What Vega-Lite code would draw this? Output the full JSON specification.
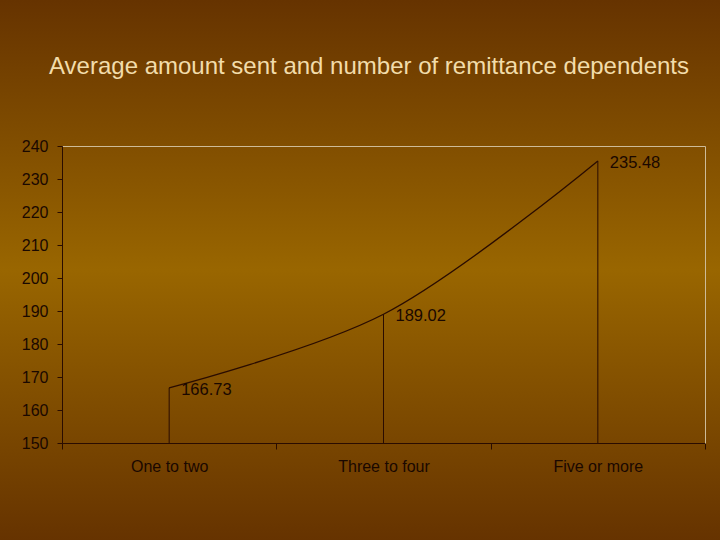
{
  "$schema": "https://vega.github.io/schema/vega-lite/v6.json",
  "width": 720,
  "height": 540,
  "autosize": "none",
  "padding": 0,
  "background": "#804c00",
  "config": {
    "view": {
      "fill": {"gradient": "linear", "x1": 0, "y1": 0, "x2": 0, "y2": 1,
        "stops": [{"offset": 0, "color": "#663300"}, {"offset": 0.5, "color": "#996600"}, {"offset": 1, "color": "#663300"}]},
      "stroke": null
    },
    "font": "Liberation Sans"
  },
  "title": {
    "text": "Average amount sent and number of remittance dependents",
    "color": "#f2dcaa",
    "fontSize": 24,
    "fontWeight": "normal",
    "font": "Liberation Sans",
    "offset": -98,
    "anchor": "middle",
    "frame": "group",
    "dx": 9,
    "baseline": "alphabetic"
  },
  "data": {
    "values": [
      {"group": "One to two", "amount": 166.73},
      {"group": "Three to four", "amount": 189.02},
      {"group": "Five or more", "amount": 235.48}
    ]
  },
  "layer": [
    {
      "mark": {"type": "rule", "color": "#2a0c00", "strokeWidth": 1},
      "encoding": {
        "x": {"field": "group", "type": "nominal", "sort": null,
          "scale": {"type": "band", "range": [62, 705], "paddingInner": 0, "paddingOuter": 0},
          "axis": {"orient": "bottom", "offset": -97, "title": null, "labelAngle": 0, "tickBand": "extent",
            "domainColor": "#2a0c00", "tickColor": "#2a0c00", "tickSize": 6, "labelFontSize": 16,
            "labelColor": "#1a0800", "labelPadding": 9, "grid": false}},
        "y": {"field": "amount", "type": "quantitative",
          "scale": {"domain": [150, 240], "range": [443, 146], "nice": false, "zero": false},
          "axis": {"orient": "left", "offset": -62, "title": null, "values": [150, 160, 170, 180, 190, 200, 210, 220, 230, 240],
            "domainColor": "#2a0c00", "tickColor": "#2a0c00", "tickSize": 5, "labelFontSize": 16,
            "labelColor": "#1a0800", "labelPadding": 9, "grid": false}},
        "y2": {"datum": 150}
      }
    },
    {
      "mark": {"type": "line", "interpolate": "catmull-rom", "color": "#2a0c00", "strokeWidth": 1.3},
      "encoding": {
        "x": {"field": "group", "type": "nominal", "sort": null,
          "axis": {"orient": "top", "offset": -146, "title": null, "labels": false, "ticks": false, "grid": false,
            "domainColor": "#cdbb98", "domainWidth": 1}},
        "y": {"field": "amount", "type": "quantitative",
          "axis": {"orient": "right", "offset": -15, "title": null, "labels": false, "ticks": false, "grid": false,
            "domainColor": "#cdbb98", "domainWidth": 1}}
      }
    },
    {
      "mark": {"type": "text", "align": "left", "baseline": "middle", "dx": 12, "dy": 2, "fontSize": 16.5, "color": "#1a0800"},
      "encoding": {
        "x": {"field": "group", "type": "nominal", "sort": null, "axis": null},
        "y": {"field": "amount", "type": "quantitative", "axis": null},
        "text": {"field": "amount", "type": "quantitative", "format": ".2f"}
      }
    }
  ],
  "resolve": {"axis": {"x": "independent", "y": "independent"}}
}
